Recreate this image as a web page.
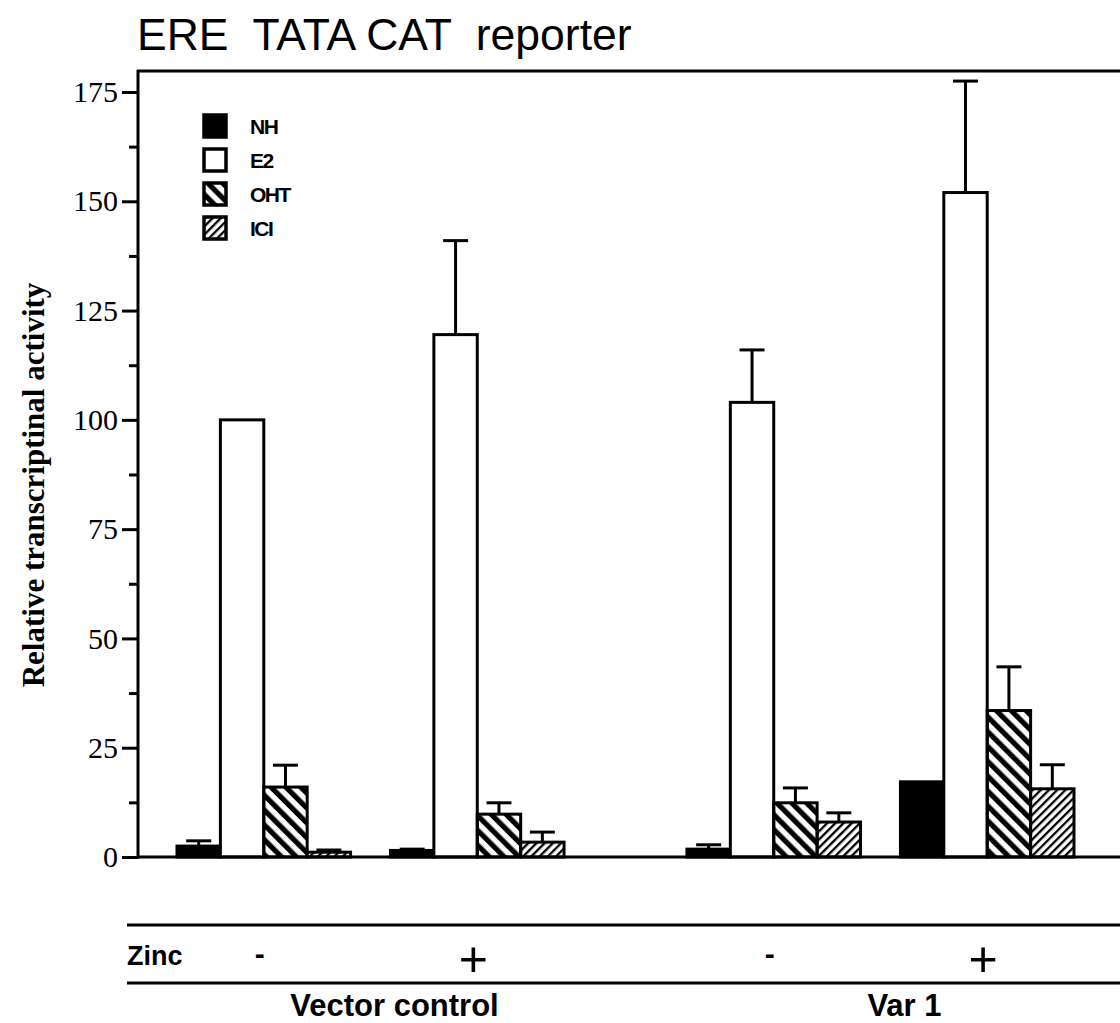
<!DOCTYPE html>
<html>
<head>
<meta charset="utf-8">
<script src="https://cdn.jsdelivr.net/npm/d3@7"></script>
<style>
  body { margin: 0; background: #fff; }
  svg { display: block; }
</style>
</head>
<body>
<div id="graph"></div>
<script>
// chart data
var constructs = ['Vector control', 'Var 1'];
var zincLevels = ['-', '+'];
var treatments = ['NH', 'E2', 'OHT', 'ICI'];

// values per group: Vector control -, Vector control +, Var 1 -, Var 1 +
var nhValues = [2.5, 1.5, 1.8, 17.2];
var e2Values = [100, 119.5, 104, 152];
var ohtValues = [16, 9.8, 12.4, 33.5];
var iciValues = [1.1, 3.4, 8, 15.6];

var nhErrors = [1.2, 0.3, 1, 0];
var e2Errors = [0, 21.5, 12, 25.5];
var ohtErrors = [5, 2.6, 3.4, 10];
var iciErrors = [0.5, 2.3, 2.1, 5.5];

var yTicks = [0, 25, 50, 75, 100, 125, 150, 175];
var yMinorTicks = [12.5, 37.5, 62.5, 87.5, 112.5, 137.5, 162.5];

var chart_width = 1120;
var chart_height = 1023;

var svg = d3
  .select('#graph')
  .append('svg')
  .attr('width', chart_width)
  .attr('height', chart_height);

// patterns for the hatched bars
var defs = svg.append('defs');

defs
  .append('pattern')
  .attr('id', 'oht-hatch')
  .attr('patternUnits', 'userSpaceOnUse')
  .attr('width', 10.5)
  .attr('height', 10.5)
  .attr('patternTransform', 'rotate(-45)')
  .append('rect')
  .attr('x', 0)
  .attr('y', 0)
  .attr('width', 5.2)
  .attr('height', 10.5)
  .attr('fill', '#000');

defs
  .append('pattern')
  .attr('id', 'ici-hatch')
  .attr('patternUnits', 'userSpaceOnUse')
  .attr('width', 5.8)
  .attr('height', 5.8)
  .attr('patternTransform', 'rotate(45)')
  .append('rect')
  .attr('x', 0)
  .attr('y', 0)
  .attr('width', 2.3)
  .attr('height', 5.8)
  .attr('fill', '#000');

var fills = {
  NH: '#000',
  E2: '#fff',
  OHT: 'url(#oht-hatch)',
  ICI: 'url(#ici-hatch)'
};

// scales
var y_scale = d3
  .scaleLinear()
  .domain([0, 175])
  .range([857, 92]);

var x_construct = d3
  .scaleBand()
  .domain(constructs)
  .range([177, 1074])
  .paddingInner(0.241)
  .paddingOuter(0);

var x_zinc = d3
  .scaleBand()
  .domain(zincLevels)
  .range([0, x_construct.bandwidth()])
  .paddingInner(0.187)
  .paddingOuter(0);

var x_treat = d3
  .scaleBand()
  .domain(treatments)
  .range([0, x_zinc.bandwidth()])
  .padding(0);

// build one record per bar
var valueSets = { NH: nhValues, E2: e2Values, OHT: ohtValues, ICI: iciValues };
var errorSets = { NH: nhErrors, E2: e2Errors, OHT: ohtErrors, ICI: iciErrors };

var groups = [];
constructs.forEach(function(c) {
  zincLevels.forEach(function(z) {
    groups.push({ construct: c, zinc: z });
  });
});

var bars = [];
groups.forEach(function(g, gi) {
  treatments.forEach(function(t) {
    bars.push({
      construct: g.construct,
      zinc: g.zinc,
      treatment: t,
      value: valueSets[t][gi],
      error: errorSets[t][gi]
    });
  });
});

var barX = function(d) {
  return x_construct(d.construct) + x_zinc(d.zinc) + x_treat(d.treatment);
};

// title
svg
  .append('text')
  .attr('x', 137)
  .attr('y', 50)
  .style('white-space', 'pre')
  .attr('font-family', 'Liberation Sans, Arial, sans-serif')
  .attr('font-size', 44.5)
  .attr('fill', '#000')
  .text('ERE  TATA CAT  reporter');

// y axis label
svg
  .append('text')
  .attr('transform', 'translate(44,' + 485 + ') rotate(-90)')
  .attr('text-anchor', 'middle')
  .attr('font-family', 'Liberation Serif, Times New Roman, serif')
  .attr('font-weight', 'bold')
  .attr('font-size', 31)
  .attr('fill', '#000')
  .text('Relative transcriptinal activity');

// bars
svg
  .selectAll('.bar')
  .data(bars)
  .enter()
  .append('rect')
  .attr('class', 'bar')
  .attr('x', function(d) {
    return barX(d);
  })
  .attr('y', function(d) {
    return y_scale(d.value);
  })
  .attr('width', x_treat.bandwidth())
  .attr('height', function(d) {
    return y_scale(0) - y_scale(d.value);
  })
  .attr('fill', function(d) {
    return fills[d.treatment];
  })
  .attr('stroke', '#000')
  .attr('stroke-width', 3);

// error bars (upper only)
var errBars = svg
  .selectAll('.err')
  .data(bars.filter(function(d) { return d.error > 0; }))
  .enter()
  .append('g')
  .attr('class', 'err')
  .attr('stroke', '#000')
  .attr('stroke-width', 3);

errBars
  .append('line')
  .attr('x1', function(d) { return barX(d) + x_treat.bandwidth() / 2; })
  .attr('x2', function(d) { return barX(d) + x_treat.bandwidth() / 2; })
  .attr('y1', function(d) { return y_scale(d.value); })
  .attr('y2', function(d) { return y_scale(d.value + d.error); });

errBars
  .append('line')
  .attr('x1', function(d) { return barX(d) + x_treat.bandwidth() / 2 - 12.5; })
  .attr('x2', function(d) { return barX(d) + x_treat.bandwidth() / 2 + 12.5; })
  .attr('y1', function(d) { return y_scale(d.value + d.error); })
  .attr('y2', function(d) { return y_scale(d.value + d.error); });

// frame: top line and baseline
svg
  .append('line')
  .attr('x1', 137)
  .attr('x2', chart_width)
  .attr('y1', 71)
  .attr('y2', 71)
  .attr('stroke', '#000')
  .attr('stroke-width', 3);

svg
  .append('line')
  .attr('x1', 137)
  .attr('x2', chart_width)
  .attr('y1', y_scale(0))
  .attr('y2', y_scale(0))
  .attr('stroke', '#000')
  .attr('stroke-width', 3);

// y axis
var y_axis = d3
  .axisLeft(y_scale)
  .tickValues(yTicks)
  .tickSize(16)
  .tickPadding(4);

var yAxisG = svg
  .append('g')
  .attr('transform', 'translate(138,0)')
  .call(y_axis);

yAxisG.select('.domain').remove();
yAxisG
  .selectAll('.tick line')
  .attr('stroke', '#000')
  .attr('stroke-width', 3);
yAxisG
  .selectAll('.tick text')
  .attr('font-family', 'Liberation Serif, Times New Roman, serif')
  .attr('font-size', 30)
  .attr('fill', '#000');

svg
  .append('line')
  .attr('x1', 138)
  .attr('x2', 138)
  .attr('y1', 70)
  .attr('y2', y_scale(0) + 1.5)
  .attr('stroke', '#000')
  .attr('stroke-width', 3);

var y_minor = d3
  .axisLeft(y_scale)
  .tickValues(yMinorTicks)
  .tickSize(9)
  .tickFormat('');

var yMinorG = svg
  .append('g')
  .attr('transform', 'translate(138,0)')
  .call(y_minor);

yMinorG.select('.domain').remove();
yMinorG
  .selectAll('.tick line')
  .attr('stroke', '#000')
  .attr('stroke-width', 3);

// zinc table below the chart
svg
  .append('line')
  .attr('x1', 127)
  .attr('x2', chart_width)
  .attr('y1', 925)
  .attr('y2', 925)
  .attr('stroke', '#000')
  .attr('stroke-width', 3);

svg
  .append('line')
  .attr('x1', 127)
  .attr('x2', chart_width)
  .attr('y1', 983)
  .attr('y2', 983)
  .attr('stroke', '#000')
  .attr('stroke-width', 3);

svg
  .append('text')
  .attr('x', 127)
  .attr('y', 965)
  .attr('font-family', 'Liberation Sans, Arial, sans-serif')
  .attr('font-weight', 'bold')
  .attr('font-size', 27)
  .attr('fill', '#000')
  .text('Zinc');

svg
  .selectAll('.zinc-mark')
  .data(groups)
  .enter()
  .append('text')
  .attr('class', 'zinc-mark')
  .attr('x', function(d) {
    return x_construct(d.construct) + x_zinc(d.zinc) + x_zinc.bandwidth() / 2 - 4;
  })
  .attr('y', function(d) {
    return d.zinc === '+' ? 976 : 964;
  })
  .attr('text-anchor', 'middle')
  .attr('font-family', 'Liberation Sans, Arial, sans-serif')
  .attr('font-weight', function(d) {
    return d.zinc === '+' ? 'normal' : 'bold';
  })
  .attr('font-size', function(d) {
    return d.zinc === '+' ? 50 : 30;
  })
  .attr('fill', '#000')
  .text(function(d) {
    return d.zinc;
  });

svg
  .selectAll('.construct-label')
  .data(constructs)
  .enter()
  .append('text')
  .attr('class', 'construct-label')
  .attr('x', function(d) {
    return x_construct(d) + x_construct.bandwidth() / 2 + 24;
  })
  .attr('y', 1016)
  .attr('text-anchor', 'middle')
  .attr('font-family', 'Liberation Sans, Arial, sans-serif')
  .attr('font-weight', 'bold')
  .attr('font-size', 31)
  .attr('fill', '#000')
  .text(function(d) {
    return d;
  });

// legend
var legend = svg
  .selectAll('.legend')
  .data(treatments)
  .enter()
  .append('g')
  .attr('class', 'legend')
  .attr('transform', function(d, i) {
    return 'translate(204,' + (115 + i * 34) + ')';
  });

legend
  .append('rect')
  .attr('width', 22)
  .attr('height', 22)
  .attr('fill', function(d) {
    return fills[d];
  })
  .attr('stroke', '#000')
  .attr('stroke-width', 3.5);

legend
  .append('text')
  .attr('x', 46)
  .attr('y', 19)
  .attr('font-family', 'Liberation Sans, Arial, sans-serif')
  .attr('font-weight', 'bold')
  .attr('font-size', 21)
  .attr('letter-spacing', -1.5)
  .attr('fill', '#000')
  .text(function(d) {
    return d;
  });
</script>
</body>
</html>
